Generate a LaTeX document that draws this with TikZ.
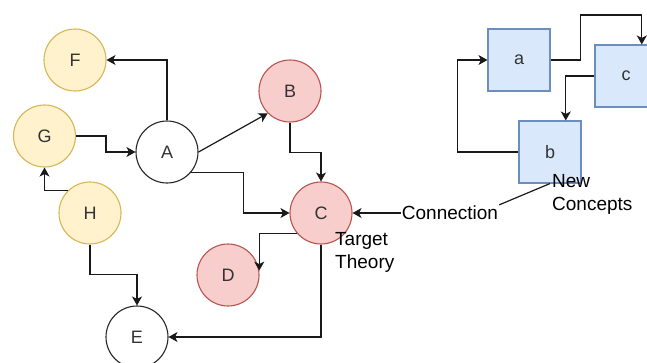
\documentclass[tikz,border=0pt]{standalone}
\usepackage{fontspec}
\setmainfont{Liberation Sans}
\usetikzlibrary{arrows.meta,calc}
\definecolor{yfill}{HTML}{FFF2CC}
\definecolor{ystroke}{HTML}{D6B656}
\definecolor{rfill}{HTML}{F8CECC}
\definecolor{rstroke}{HTML}{B85450}
\definecolor{bfill}{HTML}{DAE8FC}
\definecolor{bstroke}{HTML}{6C8EBF}
\definecolor{lettergray}{HTML}{333333}
\tikzset{
  basenode/.style={circle, minimum size=62pt, inner sep=0pt, line width=1.1pt,
    font=\fontsize{18}{22}\selectfont, text=lettergray},
  ycirc/.style={basenode, fill=yfill, draw=ystroke},
  rcirc/.style={basenode, fill=rfill, draw=rstroke},
  wcirc/.style={basenode, fill=white, draw=black!85},
  bbox/.style={rectangle, minimum width=62pt, minimum height=62pt, inner sep=0pt,
    line width=1.1pt, fill=bfill, draw=bstroke,
    font=\fontsize{18}{22}\selectfont, text=lettergray},
  lbl/.style={inner sep=0pt, font=\fontsize{19}{23}\selectfont, text=black},
  conn/.style={line width=1.2pt, draw=black!90, -{Stealth[length=9pt,width=10pt,inset=2.5pt]}},
  plain/.style={line width=1.2pt, draw=black!90}
}
\begin{document}
\begin{tikzpicture}[x=1pt,y=-1pt]
\clip (0,0) rectangle (647,362);
\fill[white] (0,0) rectangle (647,362);

% circles
\node[ycirc] (F) at (75,60) {F};
\node[ycirc] (G) at (44.5,136) {G};
\node[ycirc] (H) at (90,213) {H};
\node[wcirc] (A) at (167,152) {A};
\node[rcirc] (B) at (290,91) {B};
\node[rcirc] (C) at (321,213) {C};
\node[rcirc] (D) at (228,275) {D};
\node[wcirc] (E) at (137,337) {E};

% boxes
\node[bbox] (a) at (519,60) {a};
\node[bbox] (c) at (626,76) {c};
\node[bbox] (b) at (550,152) {b};

% labels
\node[lbl, align=left, anchor=north west] (tt) at (335,232) {Target\\Theory};
\node[lbl, align=left, anchor=north west] (nc) at (552,174) {New\\Concepts};
\node[lbl, inner sep=1pt] (cn) at (450,213) {Connection};

% connectors
\draw[conn] (A.north) |- (F.east);
\draw[conn] (G.east) -- ++(30,0) |- (A.west);
\draw[conn] (H.135) -| (G.south);
\draw[conn] (A.east) -- (B.225);
\draw[conn] (A.-40) -- ++(52,0) |- (C.west);
\draw[conn] (B.south) -- ++(0,30) -| (C.north);
\draw[conn] (C.221) -| (D.8);
\draw[conn] (C.south) |- (E.east);
\draw[conn] (H.south) -- ++(0,30) -| (E.north);

\draw[plain] (b.south) -- (cn.north east);
\draw[conn] (cn.west) -- (C.east);

\draw[conn] (a.east) -- ++(30,0) -- ++(0,-45) -| ($(c.north)!0.5!(c.north east)$);
\draw[conn] (c.west) -| ($(b.north)!0.5!(b.north east)$);
\draw[conn] (b.west) -- ++(-61,0) |- (a.west);
\end{tikzpicture}
\end{document}
